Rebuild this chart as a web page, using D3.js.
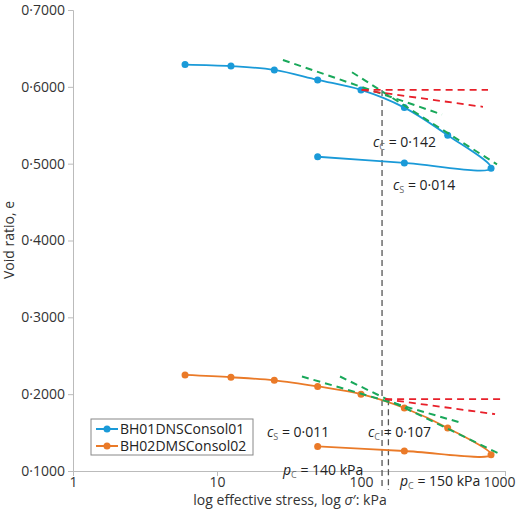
<!DOCTYPE html><html><head><meta charset="utf-8"><script src="https://cdn.jsdelivr.net/npm/d3@7"></script>
<style>body{margin:0;background:#fff}text{font-family:"Open Sans","Noto Sans",sans-serif}</style></head><body><svg id="c" width="520" height="512"></svg>
<script>
const stress1=[6,12.5,25,50,100,200,400,800,200,50];
const eRatio1=[0.629,0.627,0.622,0.609,0.596,0.573,0.537,0.494,0.501,0.509];
const stress2=[6,12.5,25,50,100,200,400,800,200,50];
const eRatio2=[0.225,0.222,0.218,0.210,0.200,0.182,0.156,0.121,0.126,0.132];
const seriesNames=["BH01DNSConsol01","BH02DMSConsol02"];
const xTicks=[1,10,100,1000];
const yTicks=[0.1,0.2,0.3,0.4,0.5,0.6,0.7];
// construction lines [s1,e1,s2,e2]
const greenLines=[[28.7,0.635,365,0.564],[86.6,0.619,880,0.499],[38.9,0.223,511,0.162],[71.5,0.223,923,0.122]];
const redLines=[[101,0.596,762,0.596],[101,0.596,703,0.574],[147,0.1935,953,0.1935],[147,0.1935,853,0.174]];
const pcLines=[[140,0.596],[155,0.1935]];

const svg=d3.select("#c");
const x=d3.scaleLog().domain([1,1000]).range([73,505]);
const y=d3.scaleLinear().domain([0.1,0.7]).range([471,10]);
const fmt=v=>v.toFixed(4).replace(".","·");
const ax=svg.append("g").attr("transform","translate(0,471)").call(d3.axisBottom(x).tickValues(xTicks).tickFormat(d=>d).tickSizeOuter(0).tickSize(5));
const ay=svg.append("g").attr("transform","translate(73,0)").call(d3.axisLeft(y).tickValues(yTicks).tickFormat(fmt).tickSizeOuter(0).tickSize(5));
[ax,ay].forEach(a=>{a.selectAll("path,line").attr("stroke","#bbb");a.selectAll("text").attr("fill","#333").style("font-size","14px");});
ax.selectAll("text").attr("dy","0.6em");
ax.selectAll("text").filter(d=>d===1000).attr("dx","-6");
svg.append("text").attr("transform","translate(14,240) rotate(-90)").attr("text-anchor","middle").style("font-size","14px").attr("fill","#333").text("Void ratio, e");
svg.append("text").attr("x",290).attr("y",505).attr("text-anchor","middle").style("font-size","14px").attr("fill","#333").html("log effective stress, log <tspan font-style='italic'>σ</tspan>′: kPa");

const L=d3.line().x(d=>x(d[0])).y(d=>y(d[1]));
pcLines.forEach((p,i)=>svg.append("line").attr("x1",x(p[0])).attr("x2",x(p[0])).attr("y1",y(p[1])).attr("y2",490).attr("stroke","#555").attr("stroke-dasharray","6,4").attr("stroke-width",1.3));
const colors=["#1a9ad8","#ea7a28"];
[[stress1,eRatio1],[stress2,eRatio2]].forEach(([s,e],k)=>{
  const pts=s.map((v,i)=>[v,e[i]]);
  svg.append("path").attr("d",L.curve(d3.curveCatmullRom)(pts)).attr("fill","none").attr("stroke",colors[k]).attr("stroke-width",1.8);
  svg.selectAll(null).data(pts).enter().append("circle").attr("cx",d=>x(d[0])).attr("cy",d=>y(d[1])).attr("r",3.5).attr("fill",colors[k]);
});
L.curve(d3.curveLinear);
greenLines.forEach(l=>svg.append("path").attr("d",L([[l[0],l[1]],[l[2],l[3]]])).attr("stroke","#19a85a").attr("stroke-width",2).attr("stroke-dasharray","7,5"));
redLines.forEach(l=>svg.append("path").attr("d",L([[l[0],l[1]],[l[2],l[3]]])).attr("stroke","#e8202a").attr("stroke-width",1.8).attr("stroke-dasharray","7,5"));

function lab(px,py,sym,sub,txt){const t=svg.append("text").attr("x",px).attr("y",py).style("font-size","14px").attr("fill","#222");
 t.append("tspan").attr("font-style","italic").text(sym);t.append("tspan").attr("dy",3).style("font-size","9px").attr("fill","#666").text(sub);t.append("tspan").attr("dy",-3).text(" = "+txt);}
lab(373,147,"c","C","0·142");lab(393,190,"c","S","0·014");
lab(267,437,"c","S","0·011");lab(368,437,"c","C","0·107");
lab(283,475,"p","C","140 kPa");lab(400,486,"p","C","150 kPa");

const lg=svg.append("g");
lg.append("rect").attr("x",91).attr("y",419).attr("width",162).attr("height",36).attr("fill","#fff").attr("stroke","#888");
seriesNames.forEach((n,i)=>{const yy=429+i*17;
 lg.append("line").attr("x1",96).attr("x2",118).attr("y1",yy).attr("y2",yy).attr("stroke",colors[i]).attr("stroke-width",2);
 lg.append("circle").attr("cx",107).attr("cy",yy).attr("r",3.5).attr("fill",colors[i]);
 lg.append("text").attr("x",120).attr("y",yy+5).style("font-size","14px").attr("fill","#222").text(n);});
</script></body></html>
